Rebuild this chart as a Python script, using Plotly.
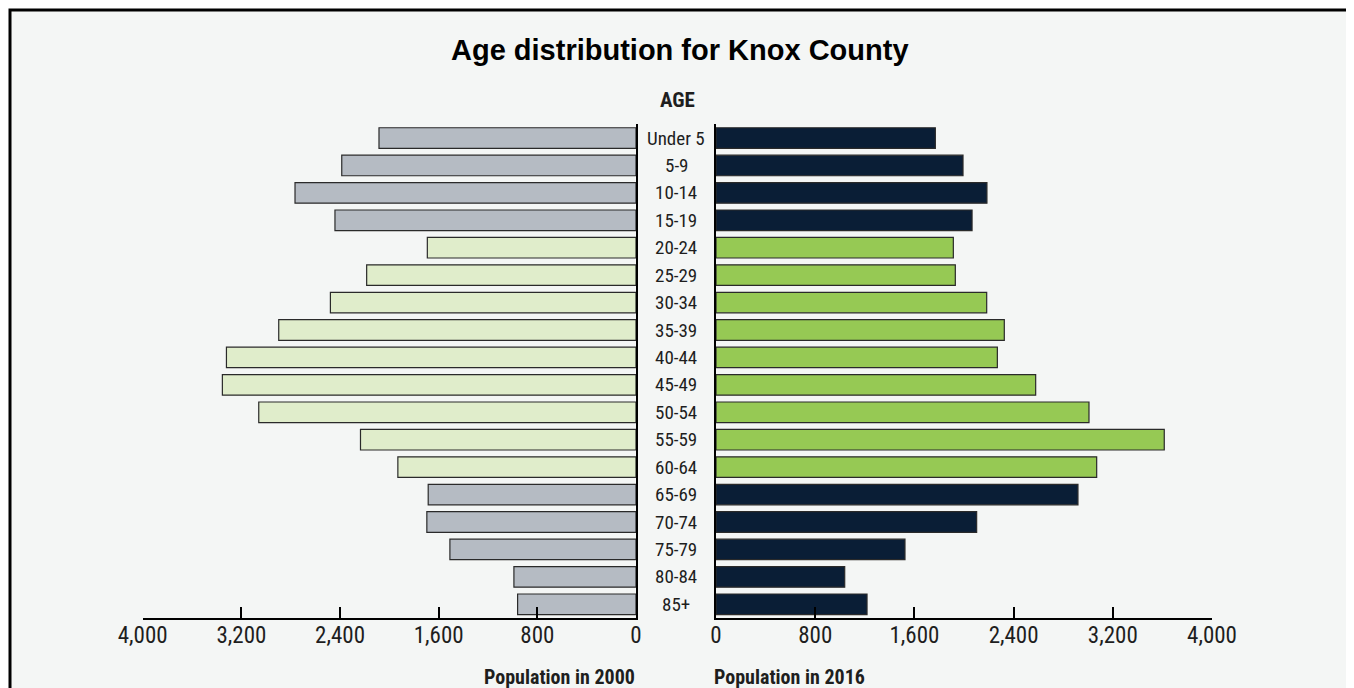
import plotly.graph_objects as go

OFF = 8  # page body margin in the browser
W, H = 1354 - OFF, 688 - OFF

age_groups = ["Under 5", "5-9", "10-14", "15-19", "20-24", "25-29", "30-34", "35-39",
              "40-44", "45-49", "50-54", "55-59", "60-64", "65-69", "70-74", "75-79",
              "80-84", "85+"]
pop_2000 = [2084, 2386, 2765, 2441, 1692, 2184, 2478, 2897, 3321, 3354, 3059, 2234,
            1931, 1685, 1696, 1509, 990, 960]
pop_2016 = [1769, 1992, 2185, 2065, 1914, 1930, 2183, 2325, 2269, 2578, 3008, 3615,
            3070, 2919, 2102, 1524, 1038, 1218]
is_working_age = [False, False, False, False, True, True, True, True, True, True, True,
                  True, True, False, False, False, False, False]
tick_vals = [0, 800, 1600, 2400, 3200, 4000]

col_2000 = ["#e0edcb" if w else "#b5bbc3" for w in is_working_age]
col_2016 = ["#96c954" if w else "#0a1e36" for w in is_working_age]

def px_x(p):
    return (p - OFF) / W

def px_y(p):
    return 1 - (p - OFF) / H

NARROW = "Liberation Sans Narrow, Arial Narrow, Roboto Condensed, Liberation Sans, Arial, sans-serif"
BOLD = "Liberation Sans, Arial, Helvetica, sans-serif"

fig = go.Figure()
fig.add_trace(go.Bar(y=age_groups, x=pop_2000, orientation="h", xaxis="x", yaxis="y",
                     marker=dict(color=col_2000, line=dict(color="#2a2a2a", width=1.2)),
                     width=0.75, showlegend=False, hoverinfo="x+y"))
fig.add_trace(go.Bar(y=age_groups, x=pop_2016, orientation="h", xaxis="x2", yaxis="y2",
                     marker=dict(color=col_2016, line=dict(color="#2a2a2a", width=1.2)),
                     width=0.75, showlegend=False, hoverinfo="x+y"))

ydom = [px_y(618), px_y(124.3)]
xax_common = dict(tickvals=tick_vals, tickformat=",", ticks="inside", ticklen=11,
                  tickwidth=2, tickcolor="black", showline=True, linewidth=2,
                  linecolor="black", showgrid=False, zeroline=False, automargin=False,
                  ticklabelstandoff=-5,
                  tickfont=dict(family=NARROW, size=23, color="#1e1e1e"),
                  fixedrange=True)
yax_common = dict(type="category", categoryorder="array", categoryarray=age_groups,
                  range=[17.5, -0.5], showticklabels=False, showline=True, linewidth=2,
                  linecolor="black", showgrid=False, zeroline=False, ticks="",
                  automargin=False, domain=ydom, fixedrange=True)

fig.update_layout(
    width=W, height=H,
    autosize=False,
    margin=dict(l=0, r=0, t=0, b=0, pad=0, autoexpand=False),
    paper_bgcolor="white",
    plot_bgcolor="rgba(0,0,0,0)",
    bargap=0.25,
    xaxis=dict(domain=[px_x(142.7), px_x(636)], range=[4000, 0], anchor="y", **xax_common),
    xaxis2=dict(domain=[px_x(716), px_x(1212)], range=[0, 4000], anchor="y2", **xax_common),
    yaxis=dict(anchor="x", side="right", **yax_common),
    yaxis2=dict(anchor="x2", side="left", **yax_common),
    shapes=[dict(type="rect", xref="paper", yref="paper",
                 x0=px_x(10), x1=px_x(1351), y0=-0.2, y1=px_y(10),
                 fillcolor="#f4f6f5", line=dict(color="black", width=3), layer="below")],
)

annotations = [
    dict(text="<b>Age distribution for Knox County</b>", x=px_x(680), y=px_y(50),
         xref="paper", yref="paper", showarrow=False, xanchor="center", yanchor="middle",
         font=dict(family=BOLD, size=29, color="black")),
    dict(text="<b>AGE</b>", x=px_x(677), y=px_y(100), xref="paper", yref="paper",
         showarrow=False, xanchor="center", yanchor="middle",
         font=dict(family=NARROW, size=21, color="#1e1e1e")),
    dict(text="<b>Population in 2000</b>", x=px_x(637), y=px_y(677), xref="paper",
         yref="paper", showarrow=False, xanchor="right", yanchor="middle",
         font=dict(family=NARROW, size=20, color="#1e1e1e")),
    dict(text="<b>Population in 2016</b>", x=px_x(712), y=px_y(677), xref="paper",
         yref="paper", showarrow=False, xanchor="left", yanchor="middle",
         font=dict(family=NARROW, size=20, color="#1e1e1e")),
]
for g in age_groups:
    annotations.append(dict(text=g, x=px_x(676), y=g, xref="paper", yref="y",
                            showarrow=False, xanchor="center", yanchor="middle",
                            font=dict(family=NARROW, size=19, color="#1e1e1e")))
fig.update_layout(annotations=annotations)

fig.write_html("out.html")
